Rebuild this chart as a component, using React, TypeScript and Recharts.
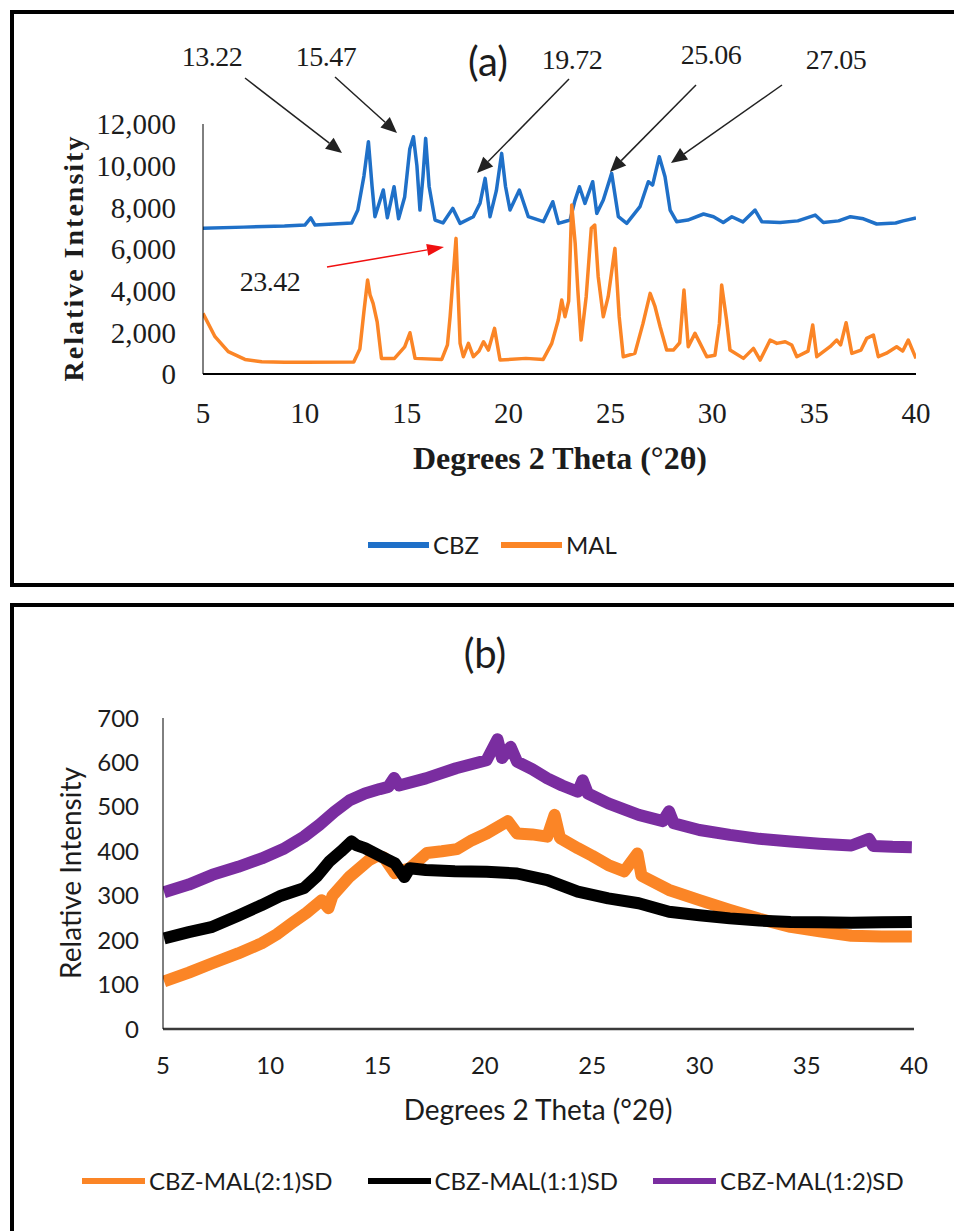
import React from 'react';
import { LineChart, Line, XAxis, YAxis, Legend } from 'recharts';

// ---------- shared ticks ----------
const thetaTicks = [5, 10, 15, 20, 25, 30, 35, 40];
const intensityTicksA = [0, 2000, 4000, 6000, 8000, 10000, 12000];
const intensityTicksB = [0, 100, 200, 300, 400, 500, 600, 700];

// ---------- panel (a) ----------
const cbzTheta = [5.0, 7.0, 9.0, 10.0, 10.29, 10.5, 12.3, 12.6, 12.9, 13.12, 13.3, 13.44, 13.85, 14.05, 14.38, 14.6, 14.9, 15.15, 15.33, 15.5, 15.65, 15.8, 15.93, 16.1, 16.39, 16.78, 17.26, 17.62, 18.27, 18.6, 18.85, 19.09, 19.4, 19.66, 19.85, 20.07, 20.53, 20.97, 21.71, 22.17, 22.45, 23.02, 23.25, 23.48, 23.75, 24.13, 24.33, 24.65, 25.06, 25.39, 25.8, 26.45, 26.86, 27.07, 27.4, 27.68, 27.93, 28.25, 28.8, 29.57, 30.06, 30.54, 30.96, 31.5, 32.1, 32.43, 33.33, 34.2, 35.05, 35.45, 36.2, 36.78, 37.42, 38.07, 39.0, 39.37, 40.0];
const cbzIntensity = [7000, 7050, 7100, 7150, 7490, 7150, 7250, 7870, 9500, 11150, 9000, 7550, 8830, 7500, 8990, 7450, 8500, 10800, 11390, 10000, 7870, 9500, 11310, 9000, 7390, 7250, 7950, 7230, 7550, 8200, 9390, 7550, 8800, 10590, 9000, 7870, 8830, 7550, 7310, 8270, 7230, 7390, 8300, 8990, 8190, 9230, 7710, 8350, 9630, 7550, 7230, 8030, 9230, 9070, 10430, 9470, 7870, 7310, 7390, 7680, 7550, 7270, 7550, 7300, 7870, 7310, 7270, 7350, 7630, 7270, 7350, 7550, 7450, 7200, 7250, 7350, 7490];

const malTheta = [5.0, 5.59, 6.24, 7.06, 7.88, 9.0, 10.0, 12.4, 12.7, 12.9, 13.08, 13.2, 13.35, 13.55, 13.76, 14.4, 14.9, 15.16, 15.41, 16.72, 17.0, 17.13, 17.42, 17.62, 17.78, 18.03, 18.27, 18.55, 18.77, 19.01, 19.31, 19.58, 20.85, 21.7, 22.12, 22.44, 22.61, 22.77, 22.95, 23.1, 23.27, 23.4, 23.56, 23.81, 24.06, 24.23, 24.4, 24.65, 24.89, 25.22, 25.43, 25.63, 26.2, 26.6, 26.95, 27.19, 27.44, 27.76, 28.09, 28.4, 28.61, 28.82, 29.15, 29.4, 29.73, 30.13, 30.35, 30.46, 30.7, 30.87, 31.53, 32.02, 32.35, 32.84, 33.17, 33.58, 33.9, 34.15, 34.7, 34.93, 35.13, 35.78, 36.11, 36.3, 36.57, 36.85, 37.3, 37.58, 37.91, 38.15, 38.55, 39.05, 39.35, 39.62, 40.0];
const malIntensity = [2910, 1790, 1070, 700, 590, 560, 560, 580, 1200, 3000, 4510, 3800, 3390, 2500, 750, 750, 1300, 1980, 750, 700, 1400, 2750, 6510, 1470, 830, 1470, 830, 1100, 1550, 1150, 2190, 670, 750, 700, 1470, 2590, 3550, 2750, 3500, 8110, 6270, 4030, 1630, 3710, 6990, 7150, 4670, 2750, 3710, 6030, 2750, 830, 990, 2430, 3870, 3230, 2270, 1150, 1150, 1500, 4030, 1310, 1950, 1470, 830, 900, 2430, 4270, 2590, 1150, 750, 1230, 670, 1630, 1470, 1550, 1390, 830, 1100, 2350, 830, 1310, 1630, 1400, 2460, 990, 1150, 1710, 1870, 830, 1000, 1310, 1100, 1630, 750];

// ---------- panel (b) ----------
const sd21Theta = [5.05, 6.2, 7.3, 8.5, 9.6, 10.3, 11.0, 11.7, 12.4, 12.71, 12.9, 13.7, 14.6, 15.0, 15.3, 15.8, 16.5, 17.3, 18.0, 18.7, 19.4, 20.08, 21.07, 21.5, 22.2, 22.91, 23.25, 23.5, 24.33, 25.0, 25.75, 26.5, 27.11, 27.3, 28.58, 30.0, 31.42, 32.8, 34.25, 35.6, 37.08, 38.5, 39.9];
const sd21Intensity = [107, 127, 148, 170, 193, 213, 238, 262, 290, 272, 300, 343, 380, 390, 386, 351, 362, 396, 400, 405, 425, 440, 468, 440, 438, 433, 482, 430, 407, 390, 369, 355, 395, 345, 313, 290, 268, 248, 230, 220, 210, 208, 208];

const sd11Theta = [5.05, 6.2, 7.3, 8.5, 9.6, 10.5, 11.57, 12.2, 12.75, 13.3, 13.79, 14.0, 14.41, 15.1, 15.81, 16.25, 16.5, 17.25, 18.6, 20.08, 21.5, 22.91, 24.33, 25.75, 27.17, 28.58, 30.0, 31.42, 32.8, 34.25, 35.6, 37.08, 38.5, 39.9];
const sd11Intensity = [204, 218, 230, 255, 279, 300, 317, 345, 377, 400, 422, 414, 407, 390, 373, 342, 362, 358, 355, 354, 350, 335, 309, 294, 283, 264, 256, 249, 244, 241, 240, 239, 240, 241];

const sd12Theta = [5.05, 6.2, 7.3, 8.5, 9.6, 10.6, 11.57, 12.3, 12.99, 13.7, 14.41, 15.1, 15.5, 15.77, 16.0, 17.25, 18.66, 20.08, 20.59, 20.8, 21.2, 21.5, 22.2, 22.91, 23.6, 24.33, 24.56, 24.8, 25.75, 27.17, 28.3, 28.58, 28.8, 30.0, 31.42, 32.8, 34.25, 35.6, 37.08, 37.9, 38.1, 39.0, 39.9];
const sd12Intensity = [308, 325, 347, 365, 384, 405, 433, 460, 489, 515, 530, 540, 545, 565, 548, 564, 587, 605, 652, 610, 635, 602, 585, 564, 548, 534, 560, 530, 508, 482, 468, 490, 463, 448, 437, 428, 422, 417, 413, 428, 412, 410, 409];

const seriesOrderA = ['CBZ', 'MAL'];
const seriesOrderB = ['CBZ-MAL(2:1)SD', 'CBZ-MAL(1:1)SD', 'CBZ-MAL(1:2)SD'];

const zip = (xs: number[], ys: number[]) => xs.map((x, i) => ({ x, y: ys[i] }));

const cbzData = zip(cbzTheta, cbzIntensity);
const malData = zip(malTheta, malIntensity);
const sd21Data = zip(sd21Theta, sd21Intensity);
const sd11Data = zip(sd11Theta, sd11Intensity);
const sd12Data = zip(sd12Theta, sd12Intensity);

const SERIF = '"Liberation Serif", "Times New Roman", serif';
const SANS = 'Lato, "Open Sans", Arial, sans-serif';
const TEXT = '#1c1c1c';

const BLUE = '#1F70C8';
const ORANGE = '#FB8526';
const PURPLE = '#7A2DA0';
const BLACK = '#000000';

function makeLegend(order: string[], lineW: number, gapItem: number, fontSize: number) {
  return (props: any) => {
    const payload = [...(props.payload || [])].sort((a: any, b: any) => order.indexOf(a.value) - order.indexOf(b.value));
    return (
      <div style={{ display: 'flex', alignItems: 'center', whiteSpace: 'nowrap' }}>
        {payload.map((p: any, i: number) => (
          <div key={i} style={{ display: 'flex', alignItems: 'center', marginRight: i < payload.length - 1 ? gapItem : 0 }}>
            <span style={{ display: 'inline-block', width: lineW, height: 6, background: p.color, marginRight: 4 }} />
            <span style={{ fontFamily: SANS, fontSize, color: TEXT, lineHeight: 1 }}>{p.value}</span>
          </div>
        ))}
      </div>
    );
  };
}

const fmt = (v: number) => v.toLocaleString('en-US');

function Arrow({ x1, y1, x2, y2, color, w, hl, hw }: any) {
  const dx = x2 - x1, dy = y2 - y1;
  const len = Math.sqrt(dx * dx + dy * dy);
  const ux = dx / len, uy = dy / len;
  const bx = x2 - ux * hl, by = y2 - uy * hl;
  const px = -uy * hw, py = ux * hw;
  return (
    <g>
      <line x1={x1} y1={y1} x2={bx} y2={by} stroke={color} strokeWidth={w} />
      <polygon points={`${x2},${y2} ${bx + px},${by + py} ${bx - px},${by - py}`} fill={color} />
    </g>
  );
}

export default function App() {
  return (
    <div style={{ position: 'absolute', left: 0, top: 0, width: 954, height: 1231, overflow: 'hidden', background: '#fff' }}>
      {/* panel frames */}
      <div style={{ position: 'absolute', left: 10, top: 10, width: 980, height: 577, boxSizing: 'border-box', borderLeft: '4px solid #000', borderTop: '4px solid #000', borderBottom: '4px solid #000' }} />
      <div style={{ position: 'absolute', left: 10, top: 603, width: 980, height: 700, boxSizing: 'border-box', borderLeft: '4px solid #000', borderTop: '4px solid #000' }} />

      {/* chart (a) */}
      <div style={{ position: 'absolute', left: 0, top: 0 }}>
        <LineChart width={954} height={600} margin={{ top: 124, right: 38, bottom: 186, left: 103 }}>
          <XAxis type="number" dataKey="x" domain={[5, 40]} ticks={thetaTicks} allowDataOverflow
            height={40} tickLine={false} tickSize={0} tickMargin={28}
            axisLine={{ stroke: '#000', strokeWidth: 2 }}
            tick={{ fontFamily: SERIF, fontSize: 29, fill: TEXT }} />
          <YAxis type="number" domain={[0, 12000]} ticks={intensityTicksA} width={100}
            tickLine={false} tickSize={0} tickMargin={27} tickFormatter={fmt}
            axisLine={{ stroke: '#000', strokeWidth: 1 }}
            tick={{ fontFamily: SERIF, fontSize: 29, fill: TEXT }} />
          <Line data={cbzData} dataKey="y" name="CBZ" stroke={BLUE} strokeWidth={3.5} dot={false} isAnimationActive={false} strokeLinejoin="round" />
          <Line data={malData} dataKey="y" name="MAL" stroke={ORANGE} strokeWidth={3.5} dot={false} isAnimationActive={false} strokeLinejoin="round" />
          <Legend verticalAlign="middle" align="center" layout="horizontal"
            wrapperStyle={{ top: 533, left: 368, width: 'auto' }}
            content={makeLegend(seriesOrderA, 61, 22, 24)} />
        </LineChart>
      </div>

      {/* chart (b) */}
      <div style={{ position: 'absolute', left: 0, top: 600 }}>
        <LineChart width={954} height={631} margin={{ top: 118, right: 40, bottom: 162, left: 63 }}>
          <XAxis type="number" dataKey="x" domain={[5, 40]} ticks={thetaTicks} allowDataOverflow
            height={40} tickLine={false} tickSize={0} tickMargin={28}
            axisLine={{ stroke: '#3a3a3a', strokeWidth: 2.5 }}
            tick={{ fontFamily: SANS, fontSize: 24, fill: TEXT }} />
          <YAxis type="number" domain={[0, 700]} ticks={intensityTicksB} width={100}
            tickLine={false} tickSize={0} tickMargin={24}
            axisLine={{ stroke: '#000', strokeWidth: 1 }}
            tick={{ fontFamily: SANS, fontSize: 24, fill: TEXT }} />
          <Line data={sd21Data} dataKey="y" name="CBZ-MAL(2:1)SD" stroke={ORANGE} strokeWidth={12} dot={false} isAnimationActive={false} strokeLinejoin="round" />
          <Line data={sd11Data} dataKey="y" name="CBZ-MAL(1:1)SD" stroke={BLACK} strokeWidth={12} dot={false} isAnimationActive={false} strokeLinejoin="round" />
          <Line data={sd12Data} dataKey="y" name="CBZ-MAL(1:2)SD" stroke={PURPLE} strokeWidth={12} dot={false} isAnimationActive={false} strokeLinejoin="round" />
          <Legend verticalAlign="middle" align="center" layout="horizontal"
            wrapperStyle={{ top: 569, left: 82, width: 'auto' }}
            content={makeLegend(seriesOrderB, 63, 35, 24)} />
        </LineChart>
      </div>

      {/* annotations & titles */}
      <svg width={954} height={1231} style={{ position: 'absolute', left: 0, top: 0, pointerEvents: 'none' }}>
        <text x={488} y={76} textAnchor="middle" fontFamily={SANS} fontSize={40} fill={TEXT}>(a)</text>
        <g fontFamily={SERIF} fontSize={28} fill={TEXT} textAnchor="middle" letterSpacing={-0.5}>
          <text x={212} y={66}>13.22</text>
          <text x={326} y={66}>15.47</text>
          <text x={572} y={69}>19.72</text>
          <text x={711} y={64}>25.06</text>
          <text x={836} y={69}>27.05</text>
          <text x={270} y={291}>23.42</text>
        </g>
        <Arrow x1={245} y1={78} x2={342} y2={153} color="#222" w={1.5} hl={16} hw={7} />
        <Arrow x1={335} y1={77} x2={397} y2={133} color="#222" w={1.5} hl={16} hw={7} />
        <Arrow x1={569} y1={79} x2={477} y2={173} color="#222" w={1.5} hl={16} hw={7} />
        <Arrow x1={696} y1={85} x2={610} y2={172} color="#222" w={1.5} hl={16} hw={7} />
        <Arrow x1={782} y1={85} x2={671} y2={163} color="#222" w={1.5} hl={16} hw={7} />
        <Arrow x1={327} y1={267} x2={444} y2={247} color="#f01010" w={1.5} hl={17} hw={6} />

        <text x={560} y={469} textAnchor="middle" fontFamily={SERIF} fontWeight="bold" fontSize={32} fill={TEXT}>Degrees 2 Theta (°2θ)</text>
        <text transform="translate(73,258) rotate(-90)" x={0} y={0} textAnchor="middle" dominantBaseline="central" fontFamily={SERIF} fontWeight="bold" fontSize={28} letterSpacing={2} fill={TEXT}>Relative Intensity</text>

        <text x={485} y={668} textAnchor="middle" fontFamily={SANS} fontSize={40} fill={TEXT}>(b)</text>
        <text x={538} y={1120} textAnchor="middle" fontFamily={SANS} fontSize={28} fill={TEXT}>Degrees 2 Theta (°2θ)</text>
        <text transform="translate(70,873) rotate(-90)" x={0} y={0} textAnchor="middle" dominantBaseline="central" fontFamily={SANS} fontSize={28} fill={TEXT}>Relative Intensity</text>
      </svg>
    </div>
  );
}
